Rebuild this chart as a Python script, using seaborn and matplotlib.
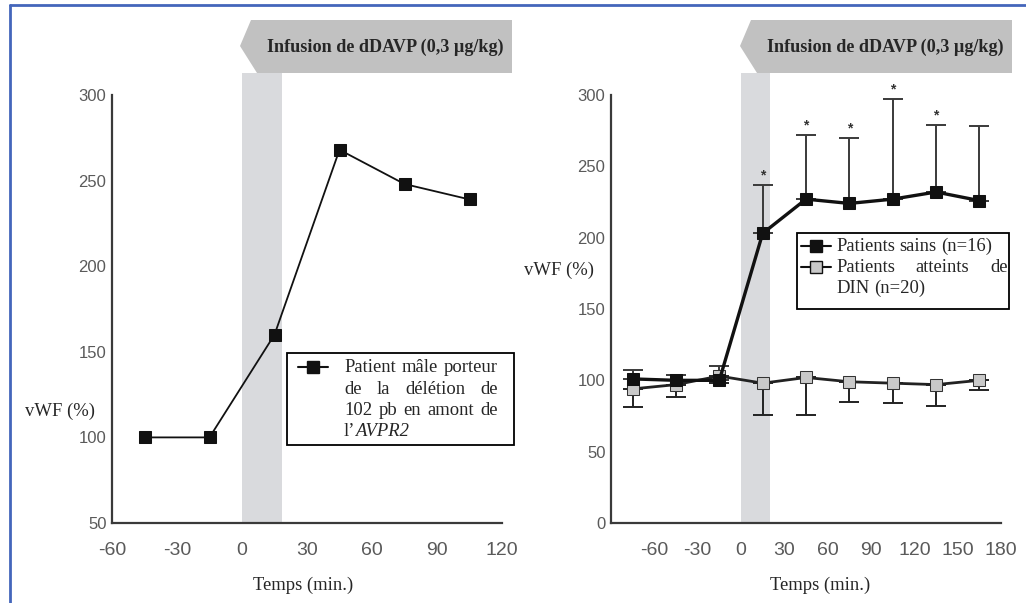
import matplotlib
matplotlib.use("Agg")
import matplotlib.pyplot as plt
from matplotlib.patches import Polygon, Rectangle
from matplotlib.lines import Line2D
import seaborn as sns
import pandas as pd

# ── Data ─────────────────────────────────────────────────────────────────────
left_time = [-45, -15, 15, 45, 75, 105]
left_vwf = [100, 100, 160, 268, 248, 239]

right_time = [-75, -45, -15, 15, 45, 75, 105, 135, 165]
sains_vwf = [101, 100, 100, 203, 227, 224, 227, 232, 226]
sains_top = [107, 104, 110, 237, 272, 270, 297, 279, 278]
sains_star = [False, False, False, True, True, True, True, True, False]
din_vwf = [94, 97, 103, 98, 102, 99, 98, 97, 100]
din_low = [81, 88, 98, 76, 76, 85, 84, 82, 93]

left_xticks = [-60, -30, 0, 30, 60, 90, 120]
right_xticks = [-60, -30, 0, 30, 60, 90, 120, 150, 180]
left_yticks = [50, 100, 150, 200, 250, 300]
right_yticks = [0, 50, 100, 150, 200, 250, 300]

banner_text = "Infusion de dDAVP (0,3 µg/kg)"
left_legend = ["Patient mâle porteur", "de la délétion de", "102 pb en amont de"]
right_legend = ["Patients sains (n=16)", "Patients atteints de", "DIN (n=20)"]

df_left = pd.DataFrame({"t": left_time, "v": left_vwf})
df_right = pd.DataFrame({"t": right_time, "sains": sains_vwf, "din": din_vwf})

# ── Style ────────────────────────────────────────────────────────────────────
sns.set_style("white")
plt.rcParams["font.family"] = ["Liberation Sans Narrow", "Liberation Sans", "DejaVu Sans"]
plt.rcParams["axes.unicode_minus"] = False
SERIF = "Liberation Serif"
FS = 13.4
AXC = "#3a3a3a"
TICKC = "#5a5a5a"

W, H = 1026, 603
fig = plt.figure(figsize=(W / 100, H / 100), dpi=100)


def px(x, y):
    return x / W, 1 - y / H


def style_axes(ax):
    sns.despine(ax=ax)
    for s in ("left", "bottom"):
        ax.spines[s].set_color(AXC)
        ax.spines[s].set_linewidth(1.6)
    ax.tick_params(axis="both", direction="in", length=8, width=1.5, color=AXC)
    ax.tick_params(axis="x", labelsize=14, pad=14, labelcolor=TICKC)
    ax.tick_params(axis="y", labelsize=12, pad=4, labelcolor=TICKC)
    ax.set_xlabel("")
    ax.set_ylabel("")
    ax.grid(False)


# ── Left panel ───────────────────────────────────────────────────────────────
axL = fig.add_axes([112 / W, 1 - 523 / H, 390 / W, 428 / H])
axL.axvspan(0, 18.5, ymin=0, ymax=(523 - 73) / 428, color="#d9dadd", lw=0, clip_on=False, zorder=0)
sns.lineplot(data=df_left, x="t", y="v", ax=axL, color="#111111", lw=1.3,
             marker="s", markersize=8, markeredgecolor="#111111", markerfacecolor="#111111", zorder=3)
axL.set_xlim(-60, 120)
axL.set_ylim(50, 300)
axL.set_xticks(left_xticks)
axL.set_yticks(left_yticks)
style_axes(axL)

# ── Right panel ──────────────────────────────────────────────────────────────
axR = fig.add_axes([611 / W, 1 - 523 / H, 390 / W, 428 / H])
axR.axvspan(0, 20, ymin=0, ymax=(523 - 73) / 428, color="#d9dadd", lw=0, clip_on=False, zorder=0)
up = [t - v for t, v in zip(sains_top, sains_vwf)]
axR.errorbar(right_time, sains_vwf, yerr=[[0] * len(up), up], fmt="none",
             ecolor=AXC, elinewidth=1.4, capsize=7, capthick=1.4, zorder=2)
lo = [v - l for v, l in zip(din_vwf, din_low)]
axR.errorbar(right_time, din_vwf, yerr=[lo, [0] * len(lo)], fmt="none",
             ecolor="#222222", elinewidth=1.4, capsize=7, capthick=1.4, zorder=2)
sns.lineplot(data=df_right, x="t", y="din", ax=axR, color="#222222", lw=2.0,
             marker="s", markersize=8, markeredgecolor="#333333", markerfacecolor="#c9c9c9", zorder=3)
sns.lineplot(data=df_right, x="t", y="sains", ax=axR, color="#111111", lw=2.4,
             marker="s", markersize=8, markeredgecolor="#111111", markerfacecolor="#111111", zorder=4)
for t, top, star in zip(right_time, sains_top, sains_star):
    if star:
        axR.annotate("*", (t, top), xytext=(0, 2), textcoords="offset points",
                     ha="center", va="bottom", fontsize=10, color="#333333",
                     fontweight="bold", annotation_clip=False)
axR.set_xlim(-90, 180)
axR.set_ylim(0, 300)
axR.set_xticks(right_xticks)
axR.set_yticks(right_yticks)
style_axes(axR)

# ── Banners ──────────────────────────────────────────────────────────────────
for x_tip, x_end in [(240, 512), (740, 1012)]:
    pts = [px(x_end, 20), px(x_tip + 11, 20), px(x_tip, 46), px(x_tip + 17, 73), px(x_end, 73)]
    fig.add_artist(Polygon(pts, closed=True, transform=fig.transFigure,
                           facecolor="#c1c1c1", edgecolor="none", zorder=5))
    fig.text(*px(x_end - 127, 47), banner_text, ha="center", va="center",
             family=SERIF, fontweight="bold", fontsize=13.1, zorder=6)

# ── Axis labels ──────────────────────────────────────────────────────────────
fig.text(*px(25, 411), "vWF (%)", ha="left", va="center", family=SERIF, fontsize=FS)
fig.text(*px(524, 270), "vWF (%)", ha="left", va="center", family=SERIF, fontsize=FS)
fig.text(*px(303, 585), "Temps (min.)", ha="center", va="center", family=SERIF, fontsize=FS)
fig.text(*px(820, 585), "Temps (min.)", ha="center", va="center", family=SERIF, fontsize=FS)

# ── Legends (justified text, drawn by hand) ──────────────────────────────────
renderer = fig.canvas.get_renderer()


def justify(words, x0, x1, base, fs=FS, last=False):
    texts = [fig.text(0, 0, w, family=SERIF, fontsize=fs, va="baseline", ha="left",
                      style=st, zorder=8) for w, st in words]
    widths = [t.get_window_extent(renderer).width for t in texts]
    if last or len(texts) == 1:
        gap = fs * 0.25 * 100 / 72
    else:
        gap = (x1 - x0 - sum(widths)) / (len(texts) - 1)
    x = x0
    for t, w in zip(texts, widths):
        t.set_position(px(x, base))
        x += w + gap


def handle(xc, yc, face):
    fig.add_artist(Line2D([px(xc - 15, 0)[0], px(xc + 15, 0)[0]], [px(0, yc)[1]] * 2,
                          transform=fig.transFigure, color="#111111", lw=1.5, zorder=8))
    fig.add_artist(Line2D([px(xc, 0)[0]], [px(0, yc)[1]], transform=fig.transFigure,
                          marker="s", markersize=8, markerfacecolor=face,
                          markeredgecolor="#111111", zorder=9))


def box(x0, y0, x1, y1):
    fig.add_artist(Rectangle(px(x0, y1), (x1 - x0) / W, (y1 - y0) / H, transform=fig.transFigure,
                             facecolor="white", edgecolor="black", lw=1.3, zorder=7))


box(287, 353, 514, 445)
handle(313, 367, "#111111")
for i, line in enumerate(left_legend):
    justify([(w, "normal") for w in line.split()], 344, 498, 372 + 21.5 * i)
justify([("l\u2019", "normal")], 344, 498, 372 + 21.5 * 3, last=True)
t_l = fig.text(0, 0, "l\u2019", family=SERIF, fontsize=FS)
wl = t_l.get_window_extent(renderer).width
t_l.remove()
fig.text(*px(344 + wl, 372 + 21.5 * 3), "AVPR2", family=SERIF, fontsize=FS,
         style="italic", va="baseline", zorder=8)

box(797, 233, 1009, 309)
handle(816, 246, "#111111")
handle(816, 267, "#c9c9c9")
justify([(w, "normal") for w in right_legend[0].split()], 836, 1008, 251, last=True)
justify([(w, "normal") for w in right_legend[1].split()], 836, 1008, 272)
justify([(w, "normal") for w in right_legend[2].split()], 836, 1008, 293, last=True)

# ── Blue frame ───────────────────────────────────────────────────────────────
fig.add_artist(Line2D([px(10, 0)[0], 1], [px(0, 5)[1]] * 2, transform=fig.transFigure,
                      color="#4466bb", lw=2))
fig.add_artist(Line2D([px(10, 0)[0]] * 2, [px(0, 5)[1], 0], transform=fig.transFigure,
                      color="#4466bb", lw=2))

fig.savefig("out.png", dpi=100)
